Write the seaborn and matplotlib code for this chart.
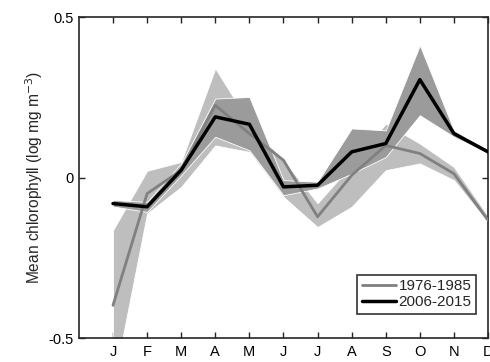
import numpy as np
import pandas as pd
import matplotlib
matplotlib.use('Agg')
import matplotlib.pyplot as plt
import seaborn as sns

# monthly means and ranges
months = ['J', 'F', 'M', 'A', 'M', 'J', 'J', 'A', 'S', 'O', 'N', 'D']
month_num = list(range(1, 13))

early_mean = [-0.398, -0.05, 0.023, 0.225, 0.137, 0.054, -0.122, 0.007, 0.10, 0.075, 0.012, -0.133]
early_upper = [-0.164, 0.021, 0.049, 0.34, 0.17, 0.054, -0.08, 0.04, 0.168, 0.106, 0.033, -0.12]
early_lower = [-0.65, -0.112, -0.029, 0.10, 0.08, -0.06, -0.154, -0.091, 0.023, 0.044, -0.008, -0.14]

late_mean = [-0.081, -0.091, 0.023, 0.189, 0.166, -0.029, -0.024, 0.08, 0.106, 0.305, 0.137, 0.08]
late_upper = [-0.07, -0.076, 0.044, 0.246, 0.251, -0.008, -0.013, 0.153, 0.147, 0.412, 0.147, 0.085]
late_lower = [-0.09, -0.107, 0.007, 0.127, 0.085, -0.055, -0.034, 0.012, 0.064, 0.194, 0.127, 0.075]

df = pd.DataFrame({
    'month': month_num * 2,
    'chl': early_mean + late_mean,
    'period': ['1976-1985'] * 12 + ['2006-2015'] * 12,
})

sns.set_style('ticks')
plt.rcParams['font.family'] = ['Liberation Sans', 'DejaVu Sans']
plt.rcParams['axes.edgecolor'] = '#262626'

fig = plt.figure(figsize=(4.9, 3.62), dpi=100)
ax = fig.add_axes([0.161, 0.066, 0.835, 0.887])

# shaded ranges, opaque with thin white edges
ax.fill_between(month_num, early_lower, early_upper, color='#bebebe',
                edgecolor='white', linewidth=0.6, zorder=1)
ax.fill_between(month_num, late_lower, late_upper, color='#9b9b9b',
                edgecolor='white', linewidth=0.6, zorder=2)

sns.lineplot(data=df, x='month', y='chl', hue='period',
             palette={'1976-1985': '#808080', '2006-2015': 'black'},
             ax=ax, zorder=3)
for line, lw in zip(ax.lines, [2.0, 2.5]):
    line.set_linewidth(lw)

ax.set_xlim(0, 12)
ax.set_ylim(-0.5, 0.5)
ax.set_xticks(month_num)
ax.set_xticklabels(months)
ax.set_yticks([-0.5, 0, 0.5])
ax.set_yticklabels(['-0.5', '0', '0.5'])
ax.tick_params(direction='in', top=True, right=True, length=4, width=1,
               labelsize=10.5, colors='#262626', labelcolor='black')
ax.tick_params(axis='x', pad=5)
for s in ax.spines.values():
    s.set_linewidth(1.2)

ax.set_xlabel('')
ax.set_ylabel('Mean chlorophyll (log mg m$^{-3}$)', fontsize=11.2, labelpad=3)

leg = ax.legend(loc='lower right', bbox_to_anchor=(0.971, 0.075), fontsize=11,
                frameon=True, fancybox=False, edgecolor='black',
                handlelength=2.2, handletextpad=0.2, borderpad=0.3,
                labelspacing=0.15, borderaxespad=0)
leg.get_frame().set_linewidth(1.2)
for h, lw in zip(leg.get_lines(), [2.0, 2.5]):
    h.set_linewidth(lw)

fig.savefig('out.png', dpi=100)
